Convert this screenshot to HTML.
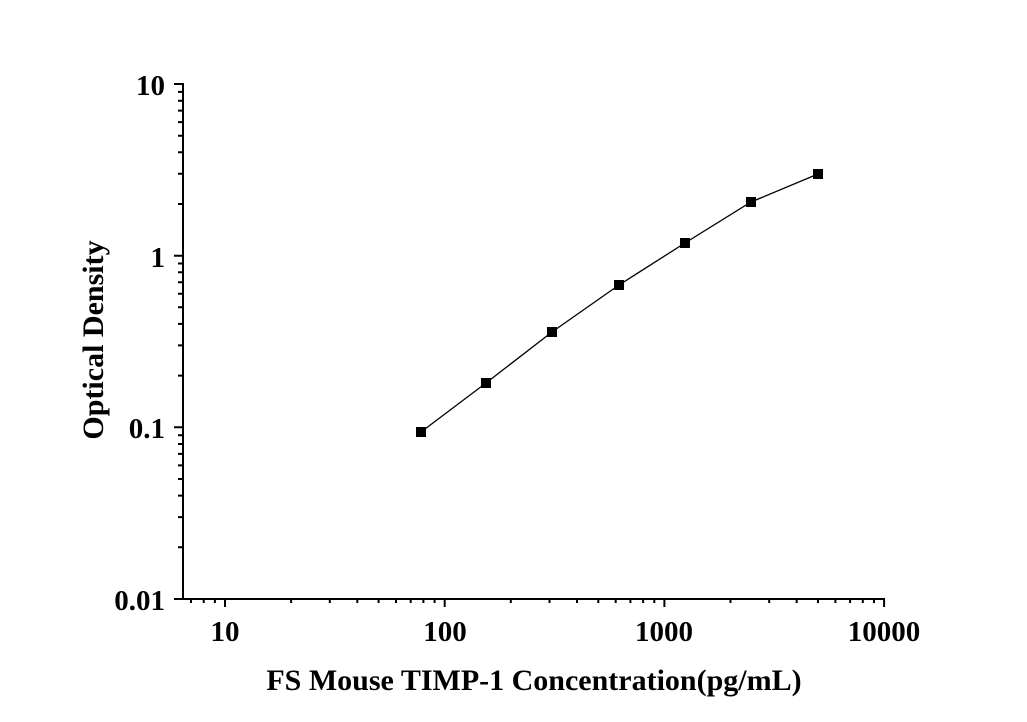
<!DOCTYPE html>
<html><head><meta charset="utf-8"><style>html,body{margin:0;padding:0;background:#fff}</style></head><body>
<svg width="1027" height="717" xmlns="http://www.w3.org/2000/svg" font-family="Liberation Serif, serif" font-weight="bold">
<rect width="1027" height="717" fill="#fff"/>
<g stroke="#000" stroke-width="2" fill="none">
<line x1="183" y1="83" x2="183" y2="600"/>
<line x1="174" y1="599" x2="885" y2="599"/>
<path d="M174 84H183M174 255.7H183M174 427.3H183"/>
<path d="M178 547.3H183M178 517.1H183M178 495.6H183M178 479H183M178 465.4H183M178 453.9H183M178 444H183M178 435.2H183
M178 375.6H183M178 345.4H183M178 323.9H183M178 307.3H183M178 293.7H183M178 282.2H183M178 272.3H183M178 263.5H183
M178 204H183M178 173.8H183M178 152.3H183M178 135.7H183M178 122.1H183M178 110.6H183M178 100.7H183M178 91.9H183"/>
<path d="M225 599V607M444.7 599V607M664.4 599V607M884.1 599V607"/>
<path d="M191 599V603M203.7 599V603M214.9 599V603
M291.1 599V603M329.8 599V603M357.3 599V603M378.6 599V603M396 599V603M410.7 599V603M423.4 599V603M434.6 599V603
M510.8 599V603M549.5 599V603M577 599V603M598.3 599V603M615.7 599V603M630.4 599V603M643.1 599V603M654.3 599V603
M730.5 599V603M769.2 599V603M796.7 599V603M818 599V603M835.4 599V603M850.1 599V603M862.8 599V603M874 599V603"/>
</g>
<polyline fill="none" stroke="#000" stroke-width="1.3" points="421,432 486,383 552,332 619,285 685,243 751,202 818,174"/>
<g fill="#000">
<rect x="416" y="427" width="10" height="10"/>
<rect x="481" y="378" width="10" height="10"/>
<rect x="547" y="327" width="10" height="10"/>
<rect x="614" y="280" width="10" height="10"/>
<rect x="680" y="238" width="10" height="10"/>
<rect x="746" y="197" width="10" height="10"/>
<rect x="813" y="169" width="10" height="10"/>
</g>
<g font-size="29" text-anchor="end">
<text x="165" y="95">10</text>
<text x="165" y="267">1</text>
<text x="165" y="438">0.1</text>
<text x="165" y="610">0.01</text>
</g>
<g font-size="29" text-anchor="middle">
<text x="225" y="641">10</text>
<text x="445" y="641">100</text>
<text x="664" y="641">1000</text>
<text x="884" y="641">10000</text>
</g>
<text x="534" y="690" font-size="30" text-anchor="middle">FS Mouse TIMP-1 Concentration(pg/mL)</text>
<text transform="translate(103,340) rotate(-90)" font-size="30" text-anchor="middle">Optical Density</text>
</svg>
</body></html>
